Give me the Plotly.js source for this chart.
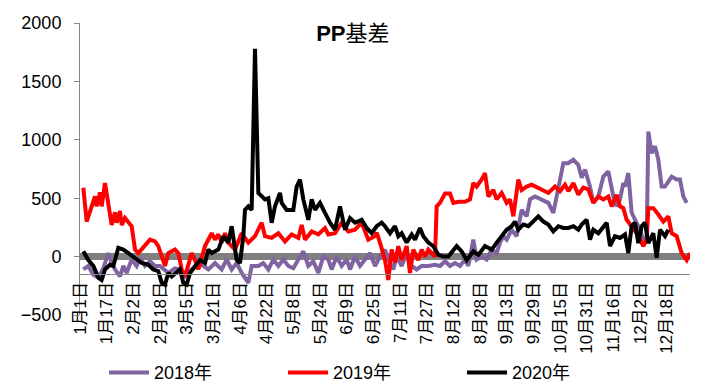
<!DOCTYPE html>
<html>
<head>
<meta charset="utf-8">
<script src="https://cdn.plot.ly/plotly-3.0.1.min.js"></script>
<style>html,body{margin:0;padding:0;background:#fff;}#chart{width:710px;height:386px;}</style>
</head>
<body>
<div id="chart"></div>
<script>
// Day of year (0 = 1月1日) and basis values
const days2018 = [2,5,8,11,14,17,19,21,24,26,28,31,34,36,39,42,45,48,53,57,60,63,67,71,74,77,81,85,88,91,94,97,101,103,107,110,113,116,119,122,125,128,131,134,137,140,143,146,149,151,154,157,160,162,165,168,171,174,177,180,183,185,188,190,193,196,199,202,205,209,213,216,219,222,225,228,231,233,236,238,241,244,247,250,252,254,256,259,262,265,268,270,273,277,281,284,287,290,293,296,299,301,303,306,308,311,314,317,320,322,324,326,327,329,331,333,336,338,340,341,343,345,347,349,351,355,358,360,362,364];
const vals2018 = [-110,-80,-155,-180,-100,30,-55,-110,-170,-80,-140,-25,-80,-10,-80,-40,-80,-80,-140,-100,-110,-170,-110,-55,-80,-110,-55,-110,-25,-110,-55,-140,-225,-80,-80,-55,-110,-25,-80,-25,-80,-100,-25,45,-80,-40,-140,0,-25,-110,0,-80,-25,-110,0,-80,-25,30,-80,0,60,-25,-110,0,-80,30,-80,-110,-80,-80,-70,-80,-40,-80,-55,-80,-25,-80,145,-25,0,-25,60,30,120,175,145,230,175,400,345,490,515,490,460,375,600,800,800,830,785,675,745,600,460,515,685,730,515,430,490,630,600,715,375,315,230,145,145,1070,885,945,830,600,600,685,660,660,515,460];

const days2019 = [2,4,9,10,12,13,15,17,19,21,22,24,25,27,29,31,33,35,42,45,47,49,51,53,57,59,61,63,67,69,71,75,77,79,81,83,85,87,89,93,97,101,105,109,111,115,119,123,127,131,133,135,139,143,147,149,153,157,161,165,169,173,177,178,180,183,185,187,189,191,193,196,198,200,203,205,207,209,211,213,214,216,219,222,224,227,231,234,236,238,241,243,245,248,250,253,256,258,260,263,265,268,271,275,281,285,288,291,293,296,299,302,305,308,311,314,317,319,322,324,326,328,331,334,338,340,341,344,347,350,353,355,358,361,364,366];
const vals2019 = [590,300,515,430,550,430,630,430,270,380,290,390,270,330,290,260,60,30,145,130,90,0,-80,30,60,30,-110,-170,30,-30,-110,90,145,200,145,190,120,200,120,60,200,120,175,290,175,160,200,130,190,160,270,145,215,190,245,190,200,290,215,230,290,145,175,205,120,-30,-200,60,-50,90,-30,90,-140,60,-30,60,0,60,30,0,430,460,540,540,460,470,470,490,630,600,660,715,515,570,490,545,460,490,345,660,570,600,615,590,545,600,560,615,560,630,530,590,575,460,515,490,515,430,530,430,415,315,260,200,90,145,415,415,360,300,345,200,175,30,-30,30];

const days2020 = [2,5,8,11,13,15,18,20,23,26,29,33,37,41,44,47,49,51,53,55,58,60,62,64,66,69,72,75,77,79,83,86,89,91,94,96,98,99,101,103,105,107,109,111,113,115,117,120,121,124,128,130,132,134,137,139,141,144,147,150,153,156,159,162,165,169,172,175,178,181,183,186,189,191,193,196,199,201,204,206,209,212,215,218,221,224,226,229,232,236,239,243,247,250,253,256,259,261,263,266,269,272,275,278,281,284,287,290,293,296,299,301,304,306,308,311,314,316,318,321,324,327,329,331,333,335,337,339,341,344,346,348,351,353];
const vals2020 = [45,-30,-80,-180,-200,-110,-70,-80,75,60,30,-10,-55,-70,-110,-125,-225,-240,-140,-170,-140,-110,-225,-240,-140,-80,-30,-55,60,30,60,175,120,260,-30,-55,175,400,430,400,1780,545,515,490,500,290,430,545,460,400,400,600,660,490,315,490,400,460,375,290,230,430,230,330,290,315,245,200,260,290,260,200,260,175,200,120,190,145,245,175,120,90,15,0,0,60,90,45,-30,45,15,90,60,120,175,230,260,300,230,275,260,300,345,300,275,215,260,245,245,260,230,275,315,145,230,200,260,290,90,175,160,190,30,260,290,115,260,290,115,200,-10,230,175,230];

const seriesNames = ['2018年','2019年','2020年'];
const tickLabels = ['1月1日','1月17日','2月2日','2月18日','3月5日','3月21日','4月6日','4月22日','5月8日','5月24日','6月9日','6月25日','7月11日','7月27日','8月12日','8月28日','9月13日','9月29日','10月15日','10月31日','11月16日','12月2日','12月18日'];
const tickStepDays = 16;

const FONT = 'Liberation Sans, Noto Sans CJK SC, sans-serif';
const colors = ['#8064A2','#FF0000','#000000'];
const xs = [days2018, days2019, days2020];
const ys = [vals2018, vals2019, vals2020];

const traces = seriesNames.map((n,i)=>({
  type:'scatter', mode:'lines', name:n, x:xs[i], y:ys[i],
  line:{color:colors[i], width:4}, hoverinfo:'skip'
}));

const layout = {
  width:710, height:386,
  margin:{l:80, r:20, t:23, b:71},
  paper_bgcolor:'#fff', plot_bgcolor:'rgba(0,0,0,0)',
  font:{family:FONT, size:18, color:'#000'},
  title:{text:'<b>PP</b>基差', font:{family:FONT, size:22, color:'#000'},
         x:0.497, xref:'container', xanchor:'center', y:0.914, yref:'container', yanchor:'middle'},
  xaxis:{type:'linear', range:[0,366], anchor:'free', position:0.14,
         tickvals:tickLabels.map((_,i)=>i*tickStepDays), ticktext:tickLabels,
         tickangle:-90, tickfont:{family:FONT, size:17, color:'#000'},
         showline:true, linecolor:'#868686', linewidth:1, ticks:'', showgrid:false,
         zeroline:false, automargin:false},
  yaxis:{range:[-500,2000], dtick:500, tick0:0, showline:true, linecolor:'#868686', linewidth:1,
         ticks:'outside', ticklen:5, tickcolor:'#868686', showgrid:false,
         zeroline:true, zerolinecolor:'#808080', zerolinewidth:7, ticklabelstandoff:9,
         tickfont:{family:FONT, size:18, color:'#000'}, automargin:false},
  showlegend:true,
  legend:{orientation:'h', x:104/710, xref:'container', xanchor:'left',
          y:1-372.7/386, yref:'container', yanchor:'middle',
          entrywidth:124, entrywidthmode:'pixels', font:{family:FONT, size:18, color:'#000'},
          bgcolor:'rgba(0,0,0,0)', itemwidth:40}
};

Plotly.newPlot('chart', traces, layout, {staticPlot:true, displayModeBar:false});
</script>
</body>
</html>
